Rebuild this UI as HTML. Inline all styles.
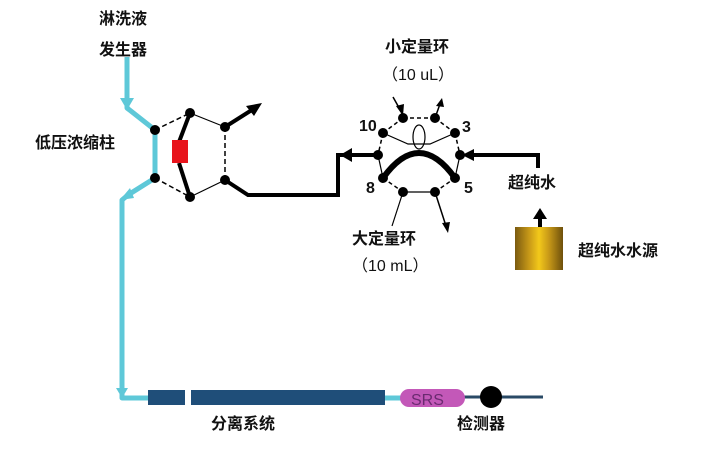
<!DOCTYPE html>
<html><head><meta charset="utf-8"><style>
html,body{margin:0;padding:0;background:#fff;}
svg{display:block;}
text{font-family:"Liberation Sans","Noto Sans CJK SC",sans-serif;font-size:16px;font-weight:bold;fill:#111;}
</style></head><body>
<svg width="710" height="450" viewBox="0 0 710 450" xmlns="http://www.w3.org/2000/svg">
<defs>
<linearGradient id="g" x1="0" x2="1"><stop offset="0" stop-color="#7a5a10"/><stop offset="0.3" stop-color="#c99a18"/><stop offset="0.5" stop-color="#f2c81a"/><stop offset="0.7" stop-color="#c99a18"/><stop offset="1" stop-color="#6e500c"/></linearGradient>
</defs>
<polyline points="127,57 127,108 155,130 155,178 128,195 122,200 122,398 148,398" fill="none" stroke="#5ec8d8" stroke-width="5" stroke-linejoin="round"/>
<polygon points="120,98 134,98 127,110" fill="#5ec8d8"/>
<polygon points="120,200 130,188 134,198" fill="#5ec8d8"/>
<polygon points="116,388 128,388 122,398" fill="#5ec8d8"/>
<g stroke="#000" fill="none">
<line x1="155" y1="130" x2="190" y2="113" stroke-width="1.5" stroke-dasharray="5,3"/>
<line x1="155" y1="178" x2="190" y2="197" stroke-width="1.5" stroke-dasharray="5,3"/>
<line x1="225" y1="127" x2="225" y2="180" stroke-width="1.5" stroke-dasharray="5,3"/>
<line x1="190" y1="113" x2="225" y2="127" stroke-width="1.2"/>
<line x1="190" y1="197" x2="225" y2="180" stroke-width="1.2"/>
<polyline points="190,113 179,142" stroke-width="4"/>
<polyline points="179,163 190,197" stroke-width="4"/>
<line x1="225" y1="127" x2="255" y2="108" stroke-width="4"/>
<polyline points="225,180 248,195 338,195 338,155 378,155" stroke-width="4"/>
</g>
<polygon points="262,103 246,106 254,116" fill="#000"/>
<polygon points="340,155 352,148 352,162" fill="#000"/>
<rect x="172" y="140" width="16" height="23" fill="#e8141c"/>
<g fill="#000">
<circle cx="155" cy="130" r="5"/><circle cx="155" cy="178" r="5"/>
<circle cx="190" cy="113" r="5"/><circle cx="190" cy="197" r="5"/>
<circle cx="225" cy="127" r="5"/><circle cx="225" cy="180" r="5"/>
</g>
<g stroke="#000" fill="none">
<g stroke-width="1.5" stroke-dasharray="4,3">
<line x1="403" y1="118" x2="435" y2="118"/>
<line x1="383" y1="133" x2="403" y2="118"/>
<line x1="435" y1="118" x2="455" y2="133"/>
<line x1="383" y1="133" x2="378" y2="155"/>
<line x1="455" y1="133" x2="460" y2="155"/>
<line x1="383" y1="178" x2="403" y2="192"/>
<line x1="435" y1="192" x2="455" y2="178"/>
</g>
<polyline points="383,133 408,144 430,144 455,133" stroke-width="1.2"/>
<ellipse cx="419" cy="137" rx="6" ry="12" stroke-width="1.2"/>
<line x1="378" y1="155" x2="383" y2="178" stroke-width="1.2"/>
<line x1="460" y1="155" x2="455" y2="178" stroke-width="1.2"/>
<line x1="403" y1="192" x2="435" y2="192" stroke-width="1.2"/>
<path d="M383,178 Q419,128 455,178" stroke-width="6"/>
<line x1="393" y1="97" x2="402" y2="113" stroke-width="1.5"/>
<line x1="435" y1="118" x2="440" y2="104" stroke-width="1.5"/>
<line x1="403" y1="192" x2="392" y2="226" stroke-width="1.2"/>
<line x1="435" y1="192" x2="446" y2="226" stroke-width="1.5"/>
<polyline points="470,155 538,155 538,168" stroke-width="4"/>
<line x1="540" y1="227" x2="540" y2="218" stroke-width="4"/>
</g>
<g fill="#000">
<polygon points="403,116 396,106 404,104"/>
<polygon points="442,98 436,106 444,107"/>
<polygon points="448,233 442,223 450,222"/>
<polygon points="462,155 474,149 474,161"/>
<polygon points="540,208 533,219 547,219"/>
<circle cx="403" cy="118" r="5"/><circle cx="435" cy="118" r="5"/>
<circle cx="383" cy="133" r="5"/><circle cx="455" cy="133" r="5"/>
<circle cx="378" cy="155" r="5"/><circle cx="460" cy="155" r="5"/>
<circle cx="383" cy="178" r="5"/><circle cx="455" cy="178" r="5"/>
<circle cx="403" cy="192" r="5"/><circle cx="435" cy="192" r="5"/>
</g>
<rect x="515" y="227" width="48" height="43" fill="url(#g)"/>
<line x1="385" y1="398" x2="402" y2="398" stroke="#5ec8d8" stroke-width="5"/>
<rect x="148" y="390" width="37" height="15" fill="#1f4e79"/>
<rect x="191" y="390" width="194" height="15" fill="#1f4e79"/>
<line x1="460" y1="397" x2="543" y2="397" stroke="#2a4a66" stroke-width="3"/>
<rect x="400" y="389" width="65" height="18" rx="9" fill="#c358b8"/>
<text x="411" y="405" style="font-weight:normal;fill:#6a2a70;font-size:16px">SRS</text>
<circle cx="491" cy="397" r="11" fill="#000"/>
<text x="99" y="24">淋洗液</text>
<text x="99" y="55">发生器</text>
<text x="35" y="148">低压浓缩柱</text>
<text x="385" y="52">小定量环</text>
<text x="382" y="80" style="font-weight:normal">（10 uL）</text>
<text x="359" y="131">10</text>
<text x="462" y="132">3</text>
<text x="366" y="193">8</text>
<text x="464" y="193">5</text>
<text x="508" y="188">超纯水</text>
<text x="578" y="256">超纯水水源</text>
<text x="352" y="244">大定量环</text>
<text x="352" y="271" style="font-weight:normal">（10 mL）</text>
<text x="211" y="429">分离系统</text>
<text x="457" y="429">检测器</text>
</svg>
</body></html>
